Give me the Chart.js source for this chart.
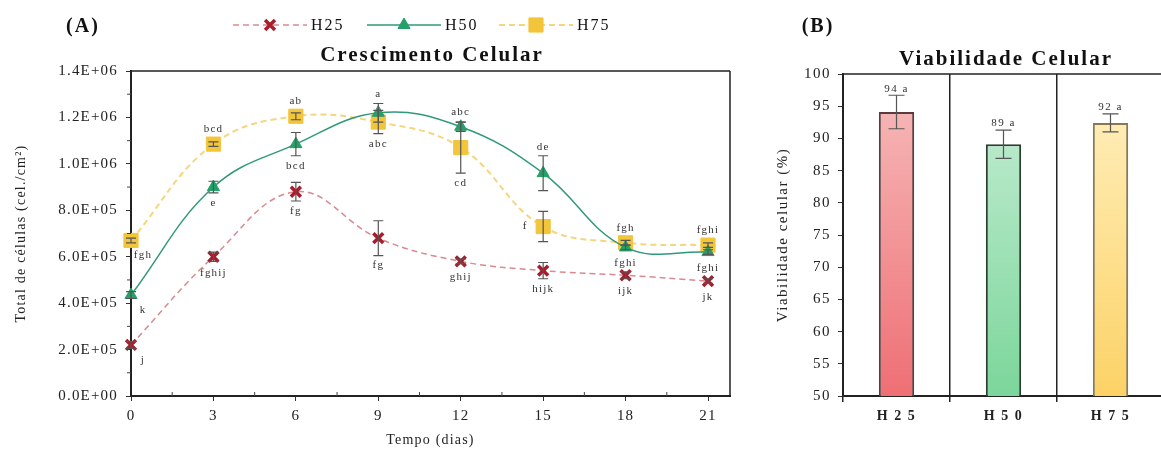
<!DOCTYPE html>
<html>
<head>
<meta charset="utf-8">
<script src="https://cdn.jsdelivr.net/npm/chart.js@4/dist/chart.umd.min.js"></script>
<style>
  html, body { margin: 0; padding: 0; background: #fff; overflow: hidden; width: 1161px; height: 461px; }
  #growth { position: absolute; left: 0; top: 0; }
  #viab { position: absolute; left: 760px; top: 0; }
</style>
</head>
<body>
<canvas id="growth" width="760" height="461"></canvas>
<canvas id="viab" width="420" height="461"></canvas>
<script>
// ---- data ----
let days = [0, 3, 6, 9, 12, 15, 18, 21];
let dayTicks = [0, 3, 6, 9, 12, 15, 18, 21];

let h25 = [2.2e5, 6.0e5, 8.8e5, 6.8e5, 5.8e5, 5.4e5, 5.2e5, 4.95e5];
let h25Err = [0.15e5, 0.2e5, 0.4e5, 0.75e5, 0.1e5, 0.35e5, 0.15e5, 0.1e5];
let h25Letters = ['j', 'fghij', 'fg', 'fg', 'ghij', 'hijk', 'ijk', 'jk'];

let h50 = [4.35e5, 9.0e5, 10.85e5, 12.2e5, 11.6e5, 9.6e5, 6.4e5, 6.2e5];
let h50Err = [0.15e5, 0.25e5, 0.5e5, 0.4e5, 0.2e5, 0.75e5, 0.1e5, 0.1e5];
let h50Letters = ['k', 'e', 'bcd', 'a', 'abc', 'de', 'fghi', 'fghi'];

let h75 = [6.7e5, 10.85e5, 12.05e5, 11.8e5, 10.7e5, 7.3e5, 6.6e5, 6.5e5];
let h75Err = [0.1e5, 0.1e5, 0.15e5, 0.5e5, 1.1e5, 0.65e5, 0.1e5, 0.1e5];
let h75Letters = ['fgh', 'bcd', 'ab', 'abc', 'cd', 'f', 'fgh', 'fghi'];

let viabLabels = ['H 2 5', 'H 5 0', 'H 7 5'];
let viabValues = [94.1, 89.1, 92.4];
let viabErr = [2.6, 2.2, 1.4];
let viabLetters = ['94 a', '89 a', '92 a'];

// where each letter sits relative to its point (style only)
let h25Pos = ['belowRight', 'below', 'below', 'below', 'below', 'below', 'below', 'below'];
let h50Pos = ['belowRight', 'below', 'below', 'above', 'above', 'above', 'below', 'below'];
let h75Pos = ['belowRight', 'above', 'above', 'below', 'below', 'left', 'above', 'above'];

const serif = "'Liberation Serif', 'Times New Roman', serif";

function sci(v) {
  if (v === 0) return '0.0E+00';
  let e = Math.floor(Math.log10(Math.abs(v)));
  let m = v / Math.pow(10, e);
  return m.toFixed(1) + 'E+' + String(e).padStart(2, '0');
}

function pts(vals) {
  return days.map((d, i) => ({ x: d, y: vals[i] }));
}

// ---- plugins ----
const spacing = {
  id: 'spacing',
  beforeUpdate(chart, args, opts) { chart.ctx.letterSpacing = opts.px + 'px'; },
  beforeDraw(chart, args, opts) { chart.ctx.letterSpacing = opts.px + 'px'; }
};

const errorBars = {
  id: 'errorBars',
  afterDatasetsDraw(chart, args, opts) {
    const { ctx, scales: { y } } = chart;
    ctx.save();
    ctx.strokeStyle = opts.color;
    ctx.lineWidth = opts.width;
    chart.data.datasets.forEach((ds, di) => {
      if (!ds.errors) return;
      chart.getDatasetMeta(di).data.forEach((el, i) => {
        let raw = ds.data[i];
        let v = typeof raw === 'object' ? raw.y : raw;
        let e = ds.errors[i];
        let top = y.getPixelForValue(v + e), bot = y.getPixelForValue(v - e);
        let w = opts.cap / 2;
        ctx.beginPath();
        ctx.moveTo(el.x, top); ctx.lineTo(el.x, bot);
        ctx.moveTo(el.x - w, top); ctx.lineTo(el.x + w, top);
        ctx.moveTo(el.x - w, bot); ctx.lineTo(el.x + w, bot);
        ctx.stroke();
      });
    });
    ctx.restore();
  }
};

const pointLetters = {
  id: 'pointLetters',
  afterDatasetsDraw(chart, args, opts) {
    const { ctx, scales: { y } } = chart;
    ctx.save();
    ctx.font = opts.font;
    ctx.fillStyle = opts.color;
    ctx.textAlign = 'center';
    ctx.textBaseline = 'middle';
    chart.data.datasets.forEach((ds, di) => {
      if (!ds.letters) return;
      chart.getDatasetMeta(di).data.forEach((pt, i) => {
        let v = ds.data[i].y, e = ds.errors[i], pos = ds.letterPos[i];
        let tx = pt.x, ty = pt.y;
        if (pos === 'above') ty = Math.min(pt.y - 15, y.getPixelForValue(v + e) - 9);
        else if (pos === 'below') ty = Math.max(pt.y + 16, y.getPixelForValue(v - e) + 10);
        else if (pos === 'left') tx = pt.x - 18;
        else if (pos === 'belowRight') { tx = pt.x + 12; ty = pt.y + 15; }
        ctx.fillText(ds.letters[i], tx, ty);
      });
    });
    ctx.restore();
  }
};

const barLetters = {
  id: 'barLetters',
  afterDatasetsDraw(chart, args, opts) {
    const { ctx, scales: { y } } = chart;
    const ds = chart.data.datasets[0];
    ctx.save();
    ctx.font = opts.font;
    ctx.fillStyle = opts.color;
    ctx.textAlign = 'center';
    ctx.textBaseline = 'bottom';
    chart.getDatasetMeta(0).data.forEach((bar, i) => {
      ctx.fillText(ds.letters[i], bar.x, y.getPixelForValue(ds.data[i] + ds.errors[i]) - 1);
    });
    ctx.restore();
  }
};

const minorTicks = {
  id: 'minorTicks',
  afterDraw(chart, args, opts) {
    const { ctx, scales: { x, y } } = chart;
    ctx.save();
    ctx.strokeStyle = '#444';
    ctx.lineWidth = 1;
    (opts.x || []).forEach(v => {
      let px = x.getPixelForValue(v);
      ctx.beginPath(); ctx.moveTo(px, y.bottom - 4); ctx.lineTo(px, y.bottom); ctx.stroke();
    });
    (opts.y || []).forEach(v => {
      let py = y.getPixelForValue(v);
      ctx.beginPath(); ctx.moveTo(x.left - 4, py); ctx.lineTo(x.left, py); ctx.stroke();
    });
    ctx.restore();
  }
};

const frame = {
  id: 'frame',
  afterDraw(chart, args, opts) {
    const { ctx, chartArea: a } = chart;
    ctx.save();
    ctx.strokeStyle = '#222';
    ctx.lineWidth = 1.5;
    ctx.beginPath();
    if (opts.top) { ctx.moveTo(a.left, a.top); ctx.lineTo(a.right, a.top); }
    if (opts.right) { ctx.moveTo(a.right, a.top); ctx.lineTo(a.right, a.bottom); }
    ctx.stroke();
    ctx.restore();
  }
};

const texts = {
  id: 'texts',
  afterDraw(chart, args, opts) {
    const ctx = chart.ctx;
    (opts.items || []).forEach(t => {
      ctx.save();
      ctx.font = t.font;
      ctx.letterSpacing = (t.spacing || 0) + 'px';
      ctx.fillStyle = '#111';
      ctx.textAlign = t.align || 'center';
      ctx.textBaseline = 'middle';
      ctx.fillText(t.text, t.x, t.y);
      ctx.restore();
    });
  }
};

const lineLegend = {
  id: 'lineLegend',
  afterDraw(chart, args, opts) {
    const ctx = chart.ctx;
    chart.data.datasets.forEach((ds, i) => {
      let x0 = opts.starts[i], y0 = opts.y, len = opts.lineLen;
      ctx.save();
      ctx.strokeStyle = ds.borderColor;
      ctx.lineWidth = ds.borderWidth;
      ctx.setLineDash(ds.borderDash || []);
      ctx.beginPath(); ctx.moveTo(x0, y0); ctx.lineTo(x0 + len, y0); ctx.stroke();
      ctx.setLineDash([]);
      ctx.fillStyle = ds.pointBackgroundColor;
      ctx.strokeStyle = ds.pointBorderColor;
      ctx.lineWidth = ds.pointBorderWidth;
      Chart.helpers.drawPoint(ctx, { pointStyle: ds.pointStyle, radius: ds.pointRadius, borderWidth: ds.pointBorderWidth, rotation: 0 }, x0 + len / 2, y0);
      ctx.font = opts.font;
      ctx.letterSpacing = opts.spacing + 'px';
      ctx.fillStyle = '#111';
      ctx.textAlign = 'left';
      ctx.textBaseline = 'middle';
      ctx.fillText(ds.label, x0 + len + 4, y0 + 1);
      ctx.restore();
    });
  }
};

// ---- (A) cell growth ----
new Chart(document.getElementById('growth'), {
  type: 'line',
  data: {
    datasets: [
      {
        label: 'H25', data: pts(h25), errors: h25Err, letters: h25Letters, letterPos: h25Pos,
        borderColor: '#d98a90', borderDash: [6, 4], borderWidth: 1.5,
        pointStyle: 'crossRot', pointRadius: 7, pointBorderWidth: 3.5,
        pointBackgroundColor: '#a81c2c', pointBorderColor: '#a81c2c', order: 1, clip: false
      },
      {
        label: 'H50', data: pts(h50), errors: h50Err, letters: h50Letters, letterPos: h50Pos,
        borderColor: '#2f9a7a', borderWidth: 1.5,
        pointStyle: 'triangle', pointRadius: 7, pointBorderWidth: 1,
        pointBackgroundColor: '#24a068', pointBorderColor: '#24a068', order: 2, clip: false
      },
      {
        label: 'H75', data: pts(h75), errors: h75Err, letters: h75Letters, letterPos: h75Pos,
        borderColor: '#f4d67e', borderDash: [6, 4], borderWidth: 2,
        pointStyle: 'rect', pointRadius: 10, pointBorderWidth: 1,
        pointBackgroundColor: '#f2c53a', pointBorderColor: '#f2c53a', order: 3, clip: false
      }
    ]
  },
  options: {
    responsive: false,
    animation: false,
    events: [],
    elements: { line: { tension: 0.4, fill: false } },
    layout: { padding: { top: 71, right: 30, left: 0, bottom: 0 } },
    scales: {
      x: {
        type: 'linear', min: 0, max: 21.8,
        afterBuildTicks: s => { s.ticks = dayTicks.map(v => ({ value: v })); },
        afterFit: s => { s.height = 65; },
        grid: { drawOnChartArea: false, tickLength: 5, color: '#333' },
        border: { display: true, color: '#222', width: 2 },
        ticks: { color: '#222', font: { family: serif, size: 15 }, padding: 6, maxRotation: 0 },
        title: { display: true, text: 'Tempo (dias)', color: '#222', font: { family: serif, size: 14 }, padding: { top: 0, bottom: 12 } }
      },
      y: {
        min: 0, max: 1.4e6,
        ticks: { stepSize: 2e5, callback: v => sci(v), color: '#222', font: { family: serif, size: 15 }, padding: 8 },
        afterFit: s => { s.width = 131; },
        grid: { drawOnChartArea: false, tickLength: 5, color: '#333' },
        border: { display: true, color: '#222', width: 2 },
        title: { display: true, text: 'Total de células (cel./cm²)', color: '#222', font: { family: serif, size: 14 }, padding: { top: 13 } }
      }
    },
    plugins: {
      legend: { display: false },
      tooltip: { enabled: false },
      spacing: { px: 1.2 },
      errorBars: { color: '#555', width: 1.2, cap: 10 },
      pointLetters: { font: '11px ' + serif, color: '#333' },
      minorTicks: { x: [1.5, 4.5, 7.5, 10.5, 13.5, 16.5, 19.5], y: [1e5, 3e5, 5e5, 7e5, 9e5, 11e5, 13e5] },
      frame: { top: true, right: true },
      lineLegend: { starts: [233, 367, 499], y: 25, lineLen: 74, font: '16px ' + serif, spacing: 2 },
      texts: {
        items: [
          { text: '(A)', x: 83, y: 27, font: 'bold 20px ' + serif, spacing: 2 },
          { text: 'Crescimento Celular', x: 432, y: 56, font: 'bold 21px ' + serif, spacing: 2 }
        ]
      }
    }
  },
  plugins: [spacing, errorBars, pointLetters, minorTicks, frame, lineLegend, texts]
});

// ---- (B) cell viability ----
let barTop = ['#f7bdbd', '#c8eed6', '#fff1c2'];
let barBottom = ['#ee6f74', '#7cd69b', '#fcd266'];
let barEdge = ['#5a3a3c', '#2c3d31', '#8a7850'];

new Chart(document.getElementById('viab'), {
  type: 'bar',
  data: {
    labels: viabLabels,
    datasets: [{
      data: viabValues,
      errors: viabErr,
      letters: viabLetters,
      backgroundColor: c => {
        const a = c.chart.chartArea;
        if (!a) return barBottom[c.dataIndex];
        const g = c.chart.ctx.createLinearGradient(0, a.top, 0, a.bottom);
        g.addColorStop(0, barTop[c.dataIndex]);
        g.addColorStop(1, barBottom[c.dataIndex]);
        return g;
      },
      borderColor: barEdge,
      borderWidth: 2,
      barPercentage: 0.33,
      categoryPercentage: 1
    }]
  },
  options: {
    responsive: false,
    animation: false,
    events: [],
    layout: { padding: { top: 74, right: 16, left: 0, bottom: 0 } },
    scales: {
      x: {
        afterFit: s => { s.height = 65; },
        grid: { offset: true, drawOnChartArea: true, tickLength: 6, color: '#222', lineWidth: 1.5 },
        border: { display: true, color: '#222', width: 2 },
        ticks: { color: '#222', font: { family: serif, size: 14, weight: 'bold' }, padding: 6 }
      },
      y: {
        min: 50, max: 100,
        ticks: { stepSize: 5, color: '#222', font: { family: serif, size: 15 }, padding: 7 },
        afterFit: s => { s.width = 83; },
        grid: { drawOnChartArea: false, tickLength: 5, color: '#333' },
        border: { display: true, color: '#222', width: 2 },
        title: { display: true, text: 'Viabilidade celular (%)', color: '#222', font: { family: serif, size: 15 }, padding: { top: 14 } }
      }
    },
    plugins: {
      legend: { display: false },
      tooltip: { enabled: false },
      spacing: { px: 1.5 },
      errorBars: { color: '#555', width: 1.2, cap: 16 },
      barLetters: { font: '11px ' + serif, color: '#333' },
      frame: { top: true, right: false },
      texts: {
        items: [
          { text: '(B)', x: 58, y: 27, font: 'bold 20px ' + serif, spacing: 2 },
          { text: 'Viabilidade Celular', x: 246, y: 60, font: 'bold 21px ' + serif, spacing: 2 }
        ]
      }
    }
  },
  plugins: [spacing, errorBars, barLetters, frame, texts]
});
</script>
</body>
</html>
